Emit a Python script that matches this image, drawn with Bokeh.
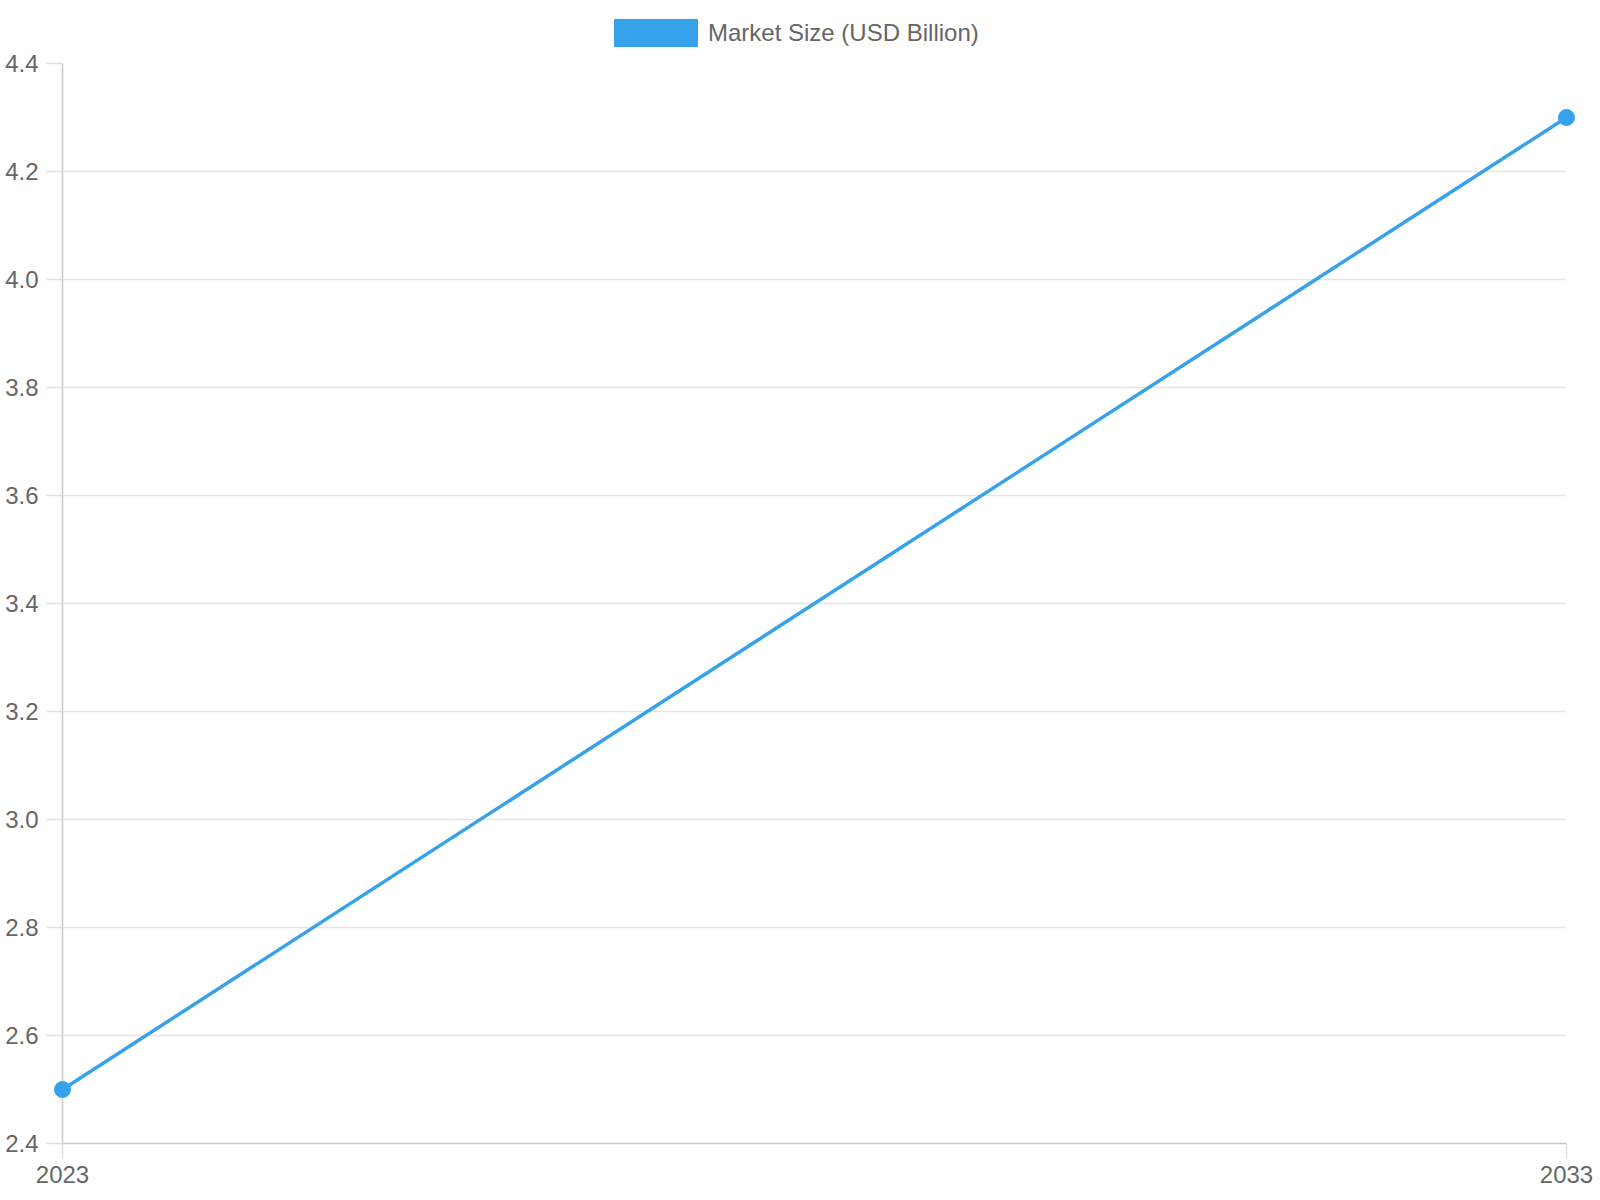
from bokeh.plotting import figure
from bokeh.layouts import column
from bokeh.models import FixedTicker, PrintfTickFormatter, Legend, LegendItem, Range1d, ColumnDataSource
from bokeh.embed import file_html
from bokeh.resources import INLINE

years = [2023, 2033]
market_size = [2.5, 4.3]
series_name = "Market Size (USD Billion)"
y_ticks = [2.4, 2.6, 2.8, 3.0, 3.2, 3.4, 3.6, 3.8, 4.0, 4.2, 4.4]

BLUE = "#36a2eb"
FONT = "Liberation Sans"
TXT = "#666666"

src = ColumnDataSource(dict(x=years, y=market_size))

# ---- header strip that carries the legend ----
W = 1600
head = figure(width=W, height=50, output_backend="svg", toolbar_location=None,
              x_range=Range1d(0, 100), y_range=Range1d(0, 100),
              x_axis_type=None, y_axis_type=None,
              min_border_left=0, min_border_right=0, min_border_top=0, min_border_bottom=0)
head.outline_line_color = None
head.grid.visible = False
dummy = head.quad(left=[-20], right=[-10], bottom=[-20], top=[-10],
                  fill_color=BLUE, line_color=BLUE, fill_alpha=1.0, line_alpha=0.0)
legend = Legend(items=[LegendItem(label=series_name, renderers=[dummy])],
                location=(541, 0), orientation="horizontal",
                glyph_width=105, glyph_height=35, label_standoff=0,
                label_text_font=FONT, label_text_font_size="24px", label_text_color=TXT,
                label_text_baseline="middle",
                border_line_color=None, background_fill_alpha=0, padding=0, margin=0,
                label_height=35)
head.add_layout(legend, "center")

# ---- main chart ----
p = figure(width=W, height=1150, output_backend="svg", toolbar_location=None,
           x_range=Range1d(years[0], years[-1]), y_range=Range1d(y_ticks[0], y_ticks[-1]),
           min_border_left=62, min_border_right=34, min_border_bottom=57, min_border_top=13)
p.outline_line_color = None

line_r = p.line("x", "y", source=src, line_color=BLUE, line_width=3.5, level="overlay")
pts = p.scatter("x", "y", source=src, size=16, fill_color=BLUE, line_color=BLUE, level="overlay")

for ax in (p.xaxis[0], p.yaxis[0]):
    ax.axis_line_color = "#c8c8c8"
    ax.axis_line_width = 1.5
    ax.major_tick_line_color = "#e0e0e0"
    ax.major_tick_line_width = 1.5
    ax.minor_tick_line_color = None
    ax.major_tick_in = 0
    ax.major_label_text_font = FONT
    ax.major_label_text_font_size = "24px"
    ax.major_label_text_color = TXT

p.xaxis.ticker = FixedTicker(ticks=years)
p.xaxis.major_tick_out = 15
p.xaxis.major_label_standoff = 7
p.yaxis.ticker = FixedTicker(ticks=y_ticks)
p.yaxis.formatter = PrintfTickFormatter(format="%.1f")
p.yaxis.major_tick_out = 16
p.yaxis.major_label_standoff = 8

p.xgrid.ticker = FixedTicker(ticks=years)
p.ygrid.ticker = FixedTicker(ticks=y_ticks)
for g in (p.xgrid[0], p.ygrid[0]):
    g.grid_line_color = "#e5e5e5"
    g.grid_line_width = 1.5

layout = column(head, p, spacing=0)
open("out.html", "w").write(file_html(layout, INLINE))
